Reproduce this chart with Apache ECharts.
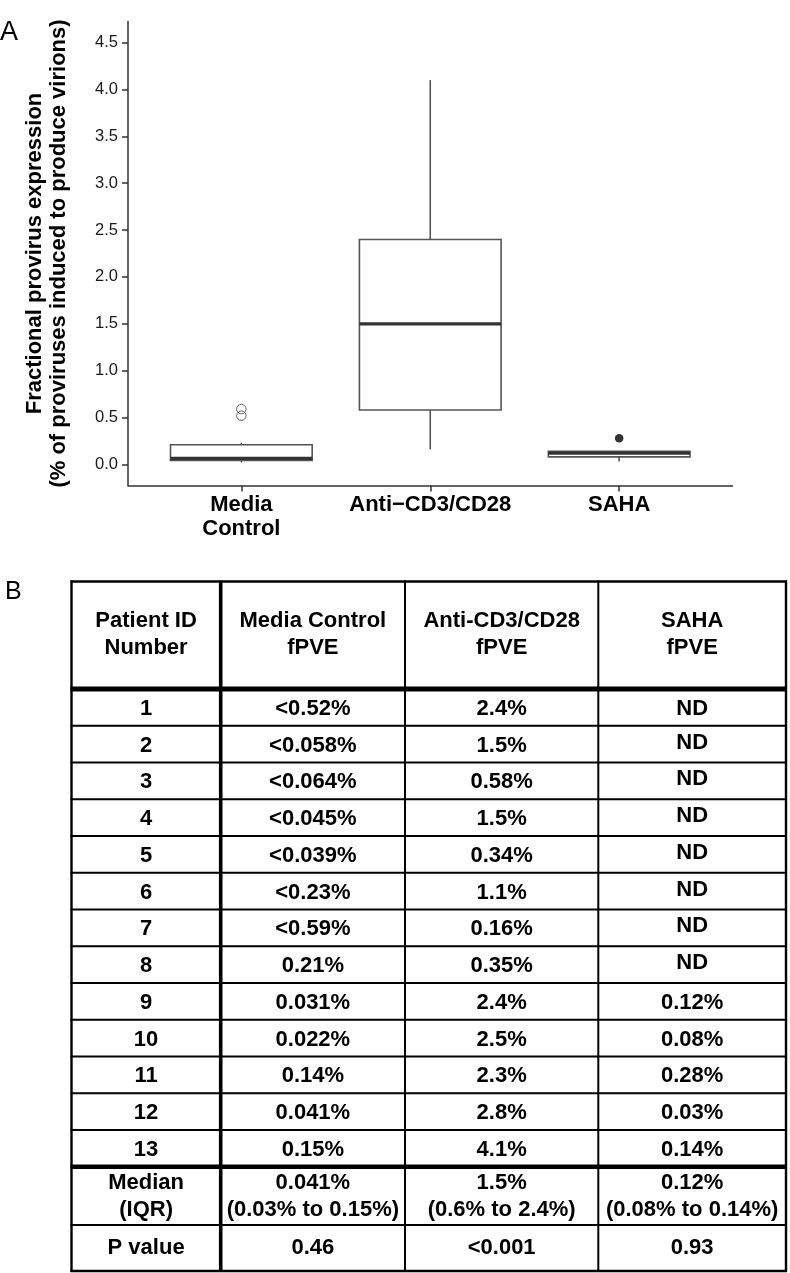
<!DOCTYPE html>
<html>
<head>
<meta charset="utf-8">
<script src="https://cdn.jsdelivr.net/npm/echarts@6/dist/echarts.min.js"></script>
<style>
html,body{margin:0;padding:0;background:#fff;}
#main{width:790px;height:1273px;}
</style>
</head>
<body>
<div id="main"></div>
<script>
// ---------- Panel A data ----------
const categories = ['Media\nControl', 'Anti\u2212CD3/CD28', 'SAHA'];
const boxLow    = [0.022, 0.16, 0.03];
const boxQ1     = [0.041, 0.58, 0.08];
const boxMedian = [0.064, 1.5, 0.12];
const boxQ3     = [0.21, 2.4, 0.14];
const boxHigh   = [0.23, 4.1, 0.14];
const mediaOutliers = [0.52, 0.59];
const sahaOutliers  = [0.28];
const yTickValues = [0, 0.5, 1, 1.5, 2, 2.5, 3, 3.5, 4, 4.5];
const yTitle = 'Fractional provirus expression\n(% of proviruses induced to produce virions)';

// ---------- Panel B data (table) ----------
const tableHeaders = [['Patient ID', 'Number'], ['Media Control', 'fPVE'], ['Anti-CD3/CD28', 'fPVE'], ['SAHA', 'fPVE']];
const patientIds = ['1','2','3','4','5','6','7','8','9','10','11','12','13'];
const mediaFpve = ['<0.52%','<0.058%','<0.064%','<0.045%','<0.039%','<0.23%','<0.59%','0.21%','0.031%','0.022%','0.14%','0.041%','0.15%'];
const antiFpve  = ['2.4%','1.5%','0.58%','1.5%','0.34%','1.1%','0.16%','0.35%','2.4%','2.5%','2.3%','2.8%','4.1%'];
const sahaFpve  = ['ND','ND','ND','ND','ND','ND','ND','ND','0.12%','0.08%','0.28%','0.03%','0.14%'];
const medianRow = [['Median', '(IQR)'], ['0.041%', '(0.03% to 0.15%)'], ['1.5%', '(0.6% to 2.4%)'], ['0.12%', '(0.08% to 0.14%)']];
const pValueRow = ['P value', '0.46', '<0.001', '0.93'];

// ---------- build ----------
const FONT = "'Liberation Sans', Arial, Helvetica, sans-serif";
const boxData = categories.map((c, i) => [i + 1, boxLow[i], boxQ1[i], boxMedian[i], boxQ3[i], boxHigh[i]]);
const openPts = mediaOutliers.map(v => [1, v]);
const filledPts = sahaOutliers.map(v => [3, v]);

// table layout
const colX = [71.5, 220.7, 405, 598.3, 786];
const tTop = 581.5, headBottom = 689, rowH = 36.75, medTop = 1166.7, pTop = 1225, tBottom = 1271;
const gfx = [];
function hline(y, w) {
  gfx.push({type: 'line', shape: {x1: colX[0] - 1, y1: y, x2: colX[4] + 1, y2: y}, style: {stroke: '#000', lineWidth: w}, silent: true});
}
function vline(x, w) {
  gfx.push({type: 'line', shape: {x1: x, y1: tTop - 1, x2: x, y2: tBottom + 1}, style: {stroke: '#000', lineWidth: w}, silent: true});
}
function txt(s, x, y, size, weight) {
  gfx.push({type: 'text', silent: true, style: {text: s, x: x, y: y, fill: '#000',
    font: (weight || 'bold') + ' ' + (size || 22) + 'px ' + FONT,
    textAlign: 'center', textVerticalAlign: 'middle', align: 'center', verticalAlign: 'middle'}});
}
hline(tTop, 2.4);
hline(headBottom, 5);
for (let i = 1; i < patientIds.length; i++) hline(headBottom + i * rowH, 2);
hline(medTop, 4.5);
hline(pTop, 2);
hline(tBottom, 2.4);
vline(colX[0], 2.4);
vline(colX[1], 3.6);
vline(colX[2], 2);
vline(colX[3], 2);
vline(colX[4], 2.4);
const colC = [0, 1, 2, 3].map(i => (colX[i] + colX[i + 1]) / 2);
const headMid = (tTop + headBottom) / 2 - 1;
tableHeaders.forEach((h, c) => { txt(h[0], colC[c], headMid - 13.5); txt(h[1], colC[c], headMid + 13.5); });
const bodyCols = [patientIds, mediaFpve, antiFpve, sahaFpve];
patientIds.forEach((id, r) => {
  const y = headBottom + rowH * (r + 0.5) + 1.5;
  bodyCols.forEach((col, c) => {
    const dy = (c === 3 && r > 0 && col[r] === 'ND') ? -3 : 0;
    txt(col[r], colC[c], y + dy);
  });
});
const medMid = (medTop + pTop) / 2 + 1;
medianRow.forEach((m, c) => { txt(m[0], colC[c], medMid - 13.5); txt(m[1], colC[c], medMid + 13.5); });
const pMid = (pTop + tBottom) / 2;
pValueRow.forEach((p, c) => txt(p, colC[c], pMid));
gfx.push({type: 'text', silent: true, style: {text: 'A', x: 0, y: 19, fill: '#000', font: 'normal 27px ' + FONT}});
gfx.push({type: 'text', silent: true, style: {text: 'B', x: 5, y: 580, fill: '#000', font: 'normal 25px ' + FONT}});

const chart = echarts.init(document.getElementById('main'), null, {renderer: 'canvas'});
chart.setOption({
  backgroundColor: '#fff',
  animation: false,
  grid: {left: 128, top: 21.5, width: 604.5, height: 464},
  xAxis: {
    type: 'value', min: 0.4, max: 3.6,
    splitLine: {show: false},
    axisLine: {show: true, onZero: false, lineStyle: {color: '#333', width: 1.5}},
    axisTick: {show: true, length: 6, customValues: [1, 2, 3], lineStyle: {color: '#333', width: 1.5}},
    axisLabel: {customValues: [1, 2, 3], formatter: v => categories[Math.round(v) - 1] || '',
      fontFamily: FONT, fontWeight: 'bold', fontSize: 22, lineHeight: 24, color: '#000', margin: 7}
  },
  yAxis: {
    type: 'value', min: -0.225, max: 4.725,
    splitLine: {show: false},
    axisLine: {show: true, onZero: false, lineStyle: {color: '#333', width: 1.5}},
    axisTick: {show: true, length: 6, customValues: yTickValues, lineStyle: {color: '#333', width: 1.5}},
    axisLabel: {customValues: yTickValues, formatter: v => v.toFixed(1),
      fontFamily: FONT, fontSize: 16.5, color: '#1a1a1a', margin: 10},
    name: yTitle, nameLocation: 'middle', nameGap: 57,
    nameTextStyle: {fontFamily: FONT, fontWeight: 'bold', fontSize: 22, lineHeight: 24, color: '#000'}
  },
  series: [
    {
      type: 'custom',
      data: boxData,
      encode: {x: 0, y: [1, 2, 3, 4, 5]},
      renderItem: function (params, api) {
        const x = api.value(0);
        const lo = api.coord([x, api.value(1)]);
        const q1 = api.coord([x, api.value(2)]);
        const md = api.coord([x, api.value(3)]);
        const q3 = api.coord([x, api.value(4)]);
        const hi = api.coord([x, api.value(5)]);
        const half = api.size([0.75, 0])[0] / 2;
        const st = {stroke: '#555', lineWidth: 1.6};
        return {type: 'group', children: [
          {type: 'line', shape: {x1: lo[0], y1: lo[1], x2: q1[0], y2: q1[1]}, style: st},
          {type: 'line', shape: {x1: q3[0], y1: q3[1], x2: hi[0], y2: hi[1]}, style: st},
          {type: 'rect', shape: {x: q3[0] - half, y: q3[1], width: half * 2, height: q1[1] - q3[1]},
            style: {fill: '#fff', stroke: '#555', lineWidth: 1.6}},
          {type: 'line', shape: {x1: md[0] - half, y1: md[1], x2: md[0] + half, y2: md[1]},
            style: {stroke: '#333', lineWidth: 3.2}}
        ]};
      },
      z: 2
    },
    {
      type: 'scatter', data: openPts, symbol: 'circle', symbolSize: 9.5,
      itemStyle: {color: 'rgba(255,255,255,0)', borderColor: '#444', borderWidth: 1}, z: 3
    },
    {
      type: 'scatter', data: filledPts, symbol: 'circle', symbolSize: 8.5,
      itemStyle: {color: '#000'}, z: 3
    }
  ],
  graphic: gfx
});
</script>
</body>
</html>
